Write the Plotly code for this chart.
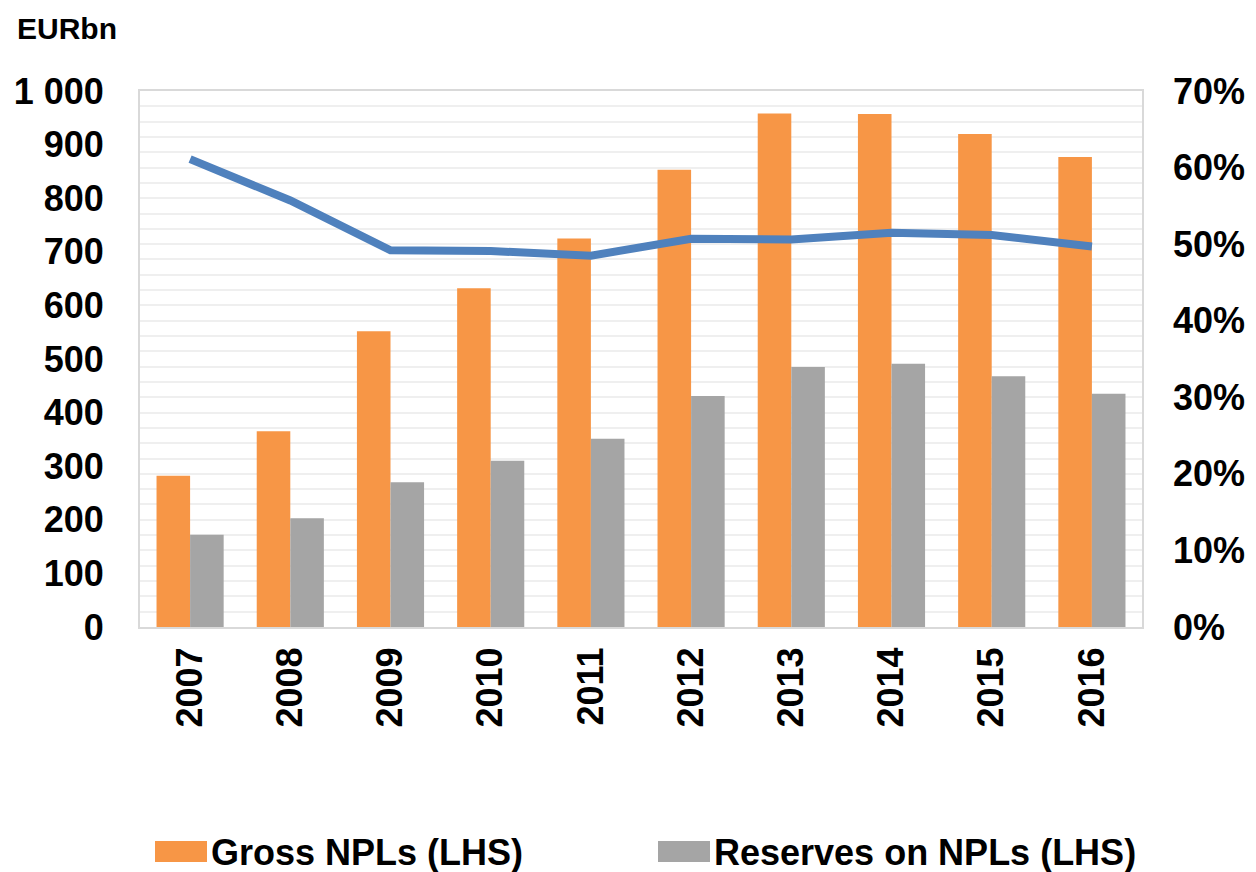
import plotly.graph_objects as go

years = ["2007", "2008", "2009", "2010", "2011", "2012", "2013", "2014", "2015", "2016"]
gross_npls = [282, 365, 552, 632, 725, 853, 958, 957, 920, 877]
reserves = [172, 203, 270, 310, 351, 431, 485, 491, 468, 435]
coverage = [0.611, 0.557, 0.492, 0.491, 0.485, 0.507, 0.506, 0.515, 0.512, 0.497]

ORANGE = "#F79646"
GRAY = "#A5A5A5"
BLUE = "#4F81BD"
FONT = "Liberation Sans"

fig = go.Figure()
fig.add_trace(go.Bar(x=years, y=gross_npls, name="Gross NPLs (LHS)", marker_color=ORANGE,
                     marker_line_width=0, showlegend=False))
fig.add_trace(go.Bar(x=years, y=reserves, name="Reserves on NPLs (LHS)", marker_color=GRAY,
                     marker_line_width=0, showlegend=False))
fig.add_trace(go.Scatter(x=years, y=coverage, mode="lines", yaxis="y2",
                         line=dict(color=BLUE, width=8), showlegend=False))

tickfont = dict(family=FONT, size=36, color="black", weight="bold")

fig.update_layout(
    width=1248, height=864,
    margin=dict(l=132, r=114, t=83, b=245),
    paper_bgcolor="white", plot_bgcolor="white",
    barmode="group", bargap=0.33, bargroupgap=0,
    separators=". ",
    xaxis=dict(tickangle=-90, tickfont=tickfont, showline=True, linecolor="#D9D9D9",
               linewidth=2, mirror=True, showgrid=False, ticks="", ticklabelstandoff=4,
               automargin=False),
    yaxis=dict(range=[0, 1000], dtick=100, tickformat=",d", tickfont=tickfont,
               showgrid=False, showline=True, linecolor="#D9D9D9", linewidth=2,
               mirror=True, zeroline=False, ticks="", ticklabelstandoff=27,
               automargin=False),
    yaxis2=dict(range=[0, 0.7], dtick=0.1, tickformat=".0%", tickfont=tickfont,
                overlaying="y", side="right", showgrid=True, gridcolor="#EFEFEF",
                gridwidth=2, zeroline=False, ticks="", ticklabelstandoff=30,
                automargin=False,
                minor=dict(dtick=0.02, showgrid=True, gridcolor="#EFEFEF", gridwidth=2)),
)

pw, ph = 1002, 536
fig.add_annotation(text="EURbn", xref="paper", yref="paper", x=(15 - 140) / pw, y=(627 - 29) / ph,
                   xanchor="left", yanchor="middle", showarrow=False,
                   font=dict(family=FONT, size=30, color="black", weight="bold"))

# manual legend
legend_items = [("Gross NPLs (LHS)", ORANGE, 155), ("Reserves on NPLs (LHS)", GRAY, 658)]
for label, col, px in legend_items:
    x0 = (px - 140) / pw
    x1 = (px + 52 - 140) / pw
    y0 = (627 - 862) / ph
    y1 = (627 - 841) / ph
    fig.add_shape(type="rect", xref="paper", yref="paper", x0=x0, x1=x1, y0=y0, y1=y1,
                  fillcolor=col, line_width=0)
    fig.add_annotation(text=label, xref="paper", yref="paper", x=(px + 54 - 140) / pw,
                       y=(627 - 852) / ph, xanchor="left", yanchor="middle", showarrow=False,
                       font=dict(family=FONT, size=36, color="black", weight="bold"))

fig.write_html("out.html")
